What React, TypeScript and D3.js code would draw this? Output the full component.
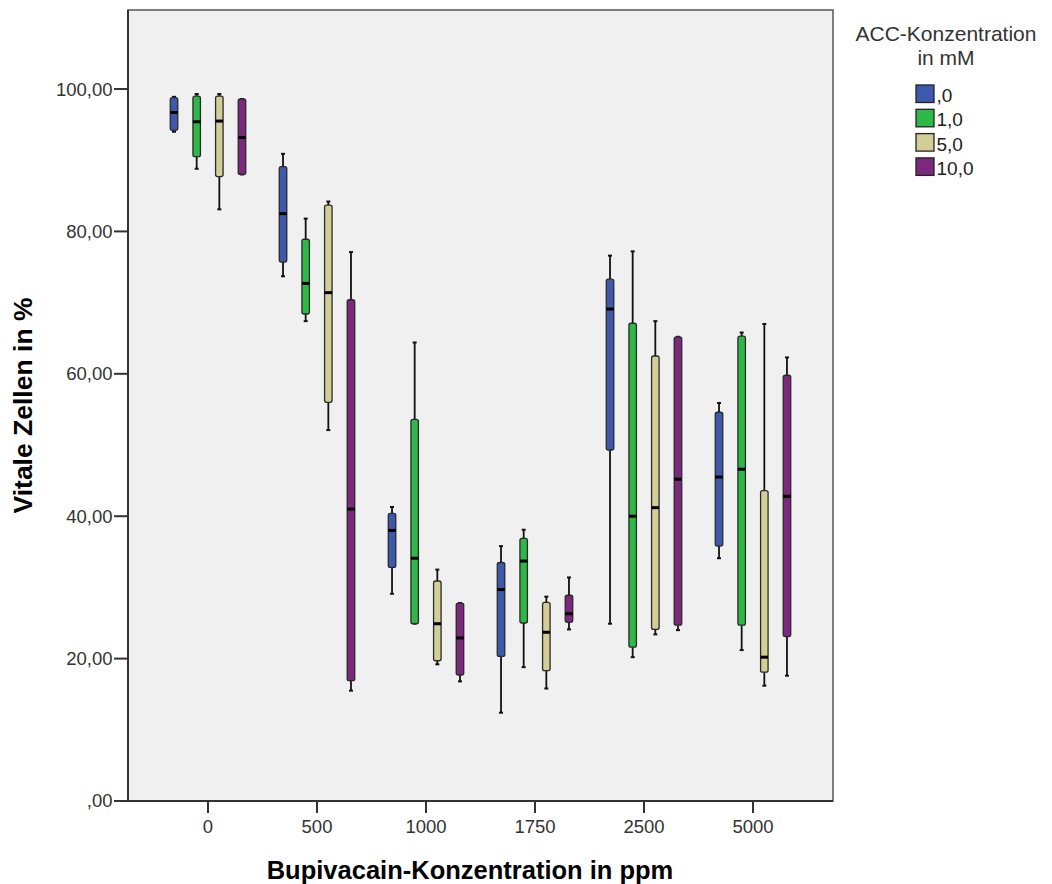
import React from "react";
import * as d3 from "d3";

// Bupivacaine concentration groups (ppm)
const categories = ["0", "500", "1000", "1750", "2500", "5000"];
// ACC concentration series (mM)
const seriesLabels = [",0", "1,0", "5,0", "10,0"];
const seriesColors = ["#3E58AC", "#2EB848", "#D3CE97", "#7C287D"];

// Five-number summaries per category: [min, q1, median, q3, max]
const acc0 = [
  [94.0, 94.2, 96.7, 98.8, 98.9],
  [73.7, 75.7, 82.5, 89.1, 90.9],
  [29.1, 32.8, 38.0, 40.4, 41.3],
  [12.4, 20.3, 29.7, 33.5, 35.8],
  [24.9, 49.3, 69.1, 73.3, 76.6],
  [34.1, 35.8, 45.5, 54.6, 55.9],
];
const acc1 = [
  [88.8, 90.5, 95.4, 99.0, 99.3],
  [67.4, 68.4, 72.7, 78.9, 81.8],
  [24.9, 24.9, 34.1, 53.6, 64.4],
  [18.8, 25.0, 33.7, 36.9, 38.1],
  [20.2, 21.6, 40.0, 67.1, 77.2],
  [21.2, 24.7, 46.6, 65.3, 65.8],
];
const acc5 = [
  [83.1, 87.7, 95.5, 99.0, 99.3],
  [52.1, 56.0, 71.4, 83.7, 84.2],
  [19.2, 19.7, 24.9, 30.9, 32.5],
  [15.8, 18.3, 23.7, 27.9, 28.7],
  [23.4, 24.1, 41.2, 62.5, 67.4],
  [16.2, 18.1, 20.2, 43.6, 67.0],
];
const acc10 = [
  [88.0, 88.0, 93.2, 98.6, 98.6],
  [15.5, 16.9, 41.0, 70.4, 77.1],
  [16.8, 17.7, 22.9, 27.8, 27.8],
  [24.1, 25.1, 26.3, 28.9, 31.4],
  [24.0, 24.7, 45.2, 65.2, 65.2],
  [17.6, 23.1, 42.8, 59.8, 62.3],
];
const seriesData = [acc0, acc1, acc5, acc10];

const yTicks = [0, 20, 40, 60, 80, 100];

const W = 1052;
const H = 884;
const left = 128;
const right = 833;
const top = 10;
const bottom = 801;

const FONT = "'Liberation Sans', Arial, sans-serif";

function fmtDe(v: number): string {
  const s = v.toFixed(2).replace(".", ",");
  return s.startsWith("0,") ? s.slice(1) : s;
}

export default function App() {
  const x = d3.scalePoint<string>().domain(categories).range([left, right]).padding(0.734);
  const inner = d3
    .scaleBand<string>()
    .domain(seriesLabels)
    .range([-45.3, 45.3])
    .padding(0);
  const y = d3.scaleLinear().domain([0, 111.1]).range([bottom, top]);

  const boxW = 7.5;
  const capW = 4;

  return (
    <svg
      width={W}
      height={H}
      style={{ position: "absolute", left: 0, top: 0, background: "#fff" }}
      fontFamily={FONT}
    >
      {/* plot area */}
      <rect x={left} y={top} width={right - left} height={bottom - top} fill="#F0F0F0" stroke="#555" strokeWidth={1.5} />

      {/* boxes */}
      {seriesData.map((rows, si) => (
        <g key={si}>
          {rows.map((r, ci) => {
            const cx = (x(categories[ci]) as number) + (inner(seriesLabels[si]) as number) + inner.bandwidth() / 2;
            const [mn, q1, md, q3, mx] = r;
            return (
              <g key={ci}>
                <line x1={cx} x2={cx} y1={y(mx)} y2={y(q3)} stroke="#111" strokeWidth={1.8} />
                <line x1={cx} x2={cx} y1={y(q1)} y2={y(mn)} stroke="#111" strokeWidth={1.8} />
                <line x1={cx - capW / 2} x2={cx + capW / 2} y1={y(mx)} y2={y(mx)} stroke="#111" strokeWidth={2} />
                <line x1={cx - capW / 2} x2={cx + capW / 2} y1={y(mn)} y2={y(mn)} stroke="#111" strokeWidth={2} />
                <rect
                  x={cx - boxW / 2}
                  y={y(q3)}
                  width={boxW}
                  height={Math.max(1, y(q1) - y(q3))}
                  rx={2}
                  fill={seriesColors[si]}
                  stroke="#2a2a2a"
                  strokeWidth={1.3}
                />
                <rect x={cx - boxW / 2} y={y(md) - 1.5} width={boxW} height={3} fill="#000" />
              </g>
            );
          })}
        </g>
      ))}

      {/* axes lines */}
      <line x1={left} x2={left} y1={top} y2={bottom} stroke="#333" strokeWidth={2} />
      <line x1={left} x2={right} y1={bottom} y2={bottom} stroke="#333" strokeWidth={2} />

      {/* y axis */}
      {yTicks.map((t) => (
        <g key={t}>
          <line x1={114} x2={left} y1={y(t)} y2={y(t)} stroke="#333" strokeWidth={2} />
          <text x={112.5} y={y(t)} dy="0.35em" textAnchor="end" fontSize={18.5} fill="#333">
            {fmtDe(t)}
          </text>
        </g>
      ))}
      <text
        transform={`translate(32,${(top + bottom) / 2}) rotate(-90)`}
        textAnchor="middle"
        fontSize={26.5}
        fontWeight="bold"
        fill="#000"
      >
        Vitale Zellen in %
      </text>

      {/* x axis */}
      {categories.map((c) => (
        <g key={c}>
          <line x1={x(c)} x2={x(c)} y1={bottom} y2={bottom + 12} stroke="#333" strokeWidth={2} />
          <text x={x(c)} y={833} textAnchor="middle" fontSize={18.5} fill="#333">
            {c}
          </text>
        </g>
      ))}
      <text x={470} y={879} textAnchor="middle" fontSize={25.5} fontWeight="bold" fill="#000">
        Bupivacain-Konzentration in ppm
      </text>

      {/* legend */}
      <text x={946} y={41} textAnchor="middle" fontSize={21} fill="#333">
        ACC-Konzentration
      </text>
      <text x={946} y={65} textAnchor="middle" fontSize={21} fill="#333">
        in mM
      </text>
      {seriesLabels.map((s, i) => (
        <g key={s} transform={`translate(916,${85 + i * 24.3})`}>
          <rect x={0} y={0} width={18} height={17.5} fill={seriesColors[i]} stroke="#222" strokeWidth={1.3} />
          <text x={20.5} y={17} fontSize={19} fill="#222">
            {s}
          </text>
        </g>
      ))}
    </svg>
  );
}
